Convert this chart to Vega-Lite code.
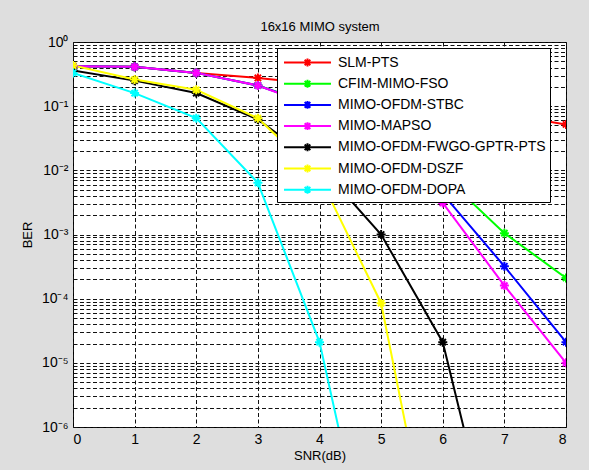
{
  "$schema": "https://vega.github.io/schema/vega-lite/v6.json",
  "width": 493,
  "height": 385,
  "autosize": "none",
  "padding": {"left": 73, "top": 42, "right": 23, "bottom": 43},
  "background": "#dedede",
  "config": {
    "view": {"fill": "white", "stroke": "black", "strokeWidth": 1},
    "axis": {"labelFont": "Liberation Sans", "labelFontSize": 14, "labelColor": "#000", "titleFont": "Liberation Sans", "titleFontSize": 13, "titleFontWeight": "normal", "titleColor": "#000", "ticks": false, "domain": false, "grid": true, "gridColor": "#111", "gridDash": [4, 2.5], "gridWidth": 1, "gridOpacity": 1}
  },
  "data": {"values": [
    {"x": 0, "y": 0.42, "s": "SLM-PTS"}, {"x": 1, "y": 0.41, "s": "SLM-PTS"}, {"x": 2, "y": 0.33, "s": "SLM-PTS"}, {"x": 3, "y": 0.275, "s": "SLM-PTS"}, {"x": 4, "y": 0.22, "s": "SLM-PTS"}, {"x": 5, "y": 0.16, "s": "SLM-PTS"}, {"x": 6, "y": 0.11, "s": "SLM-PTS"}, {"x": 7, "y": 0.075, "s": "SLM-PTS"}, {"x": 8, "y": 0.052, "s": "SLM-PTS"},
    {"x": 0, "y": 0.42, "s": "CFIM-MIMO-FSO"}, {"x": 1, "y": 0.41, "s": "CFIM-MIMO-FSO"}, {"x": 2, "y": 0.33, "s": "CFIM-MIMO-FSO"}, {"x": 3, "y": 0.21, "s": "CFIM-MIMO-FSO"}, {"x": 4, "y": 0.1, "s": "CFIM-MIMO-FSO"}, {"x": 5, "y": 0.032, "s": "CFIM-MIMO-FSO"}, {"x": 6, "y": 0.0085, "s": "CFIM-MIMO-FSO"}, {"x": 7, "y": 0.00105, "s": "CFIM-MIMO-FSO"}, {"x": 8, "y": 0.00021, "s": "CFIM-MIMO-FSO"},
    {"x": 0, "y": 0.42, "s": "MIMO-OFDM-STBC"}, {"x": 1, "y": 0.41, "s": "MIMO-OFDM-STBC"}, {"x": 2, "y": 0.33, "s": "MIMO-OFDM-STBC"}, {"x": 3, "y": 0.21, "s": "MIMO-OFDM-STBC"}, {"x": 4, "y": 0.097, "s": "MIMO-OFDM-STBC"}, {"x": 5, "y": 0.03, "s": "MIMO-OFDM-STBC"}, {"x": 6, "y": 0.0043, "s": "MIMO-OFDM-STBC"}, {"x": 7, "y": 0.00032, "s": "MIMO-OFDM-STBC"}, {"x": 8, "y": 0.000021, "s": "MIMO-OFDM-STBC"},
    {"x": 0, "y": 0.42, "s": "MIMO-MAPSO"}, {"x": 1, "y": 0.41, "s": "MIMO-MAPSO"}, {"x": 2, "y": 0.33, "s": "MIMO-MAPSO"}, {"x": 3, "y": 0.21, "s": "MIMO-MAPSO"}, {"x": 4, "y": 0.094, "s": "MIMO-MAPSO"}, {"x": 5, "y": 0.025, "s": "MIMO-MAPSO"}, {"x": 6, "y": 0.0031, "s": "MIMO-MAPSO"}, {"x": 7, "y": 0.00016, "s": "MIMO-MAPSO"}, {"x": 8, "y": 0.00001, "s": "MIMO-MAPSO"},
    {"x": 0, "y": 0.36, "s": "MIMO-OFDM-FWGO-GPTR-PTS"}, {"x": 1, "y": 0.25, "s": "MIMO-OFDM-FWGO-GPTR-PTS"}, {"x": 2, "y": 0.16, "s": "MIMO-OFDM-FWGO-GPTR-PTS"}, {"x": 3, "y": 0.062, "s": "MIMO-OFDM-FWGO-GPTR-PTS"}, {"x": 4, "y": 0.012, "s": "MIMO-OFDM-FWGO-GPTR-PTS"}, {"x": 5, "y": 0.001, "s": "MIMO-OFDM-FWGO-GPTR-PTS"}, {"x": 6, "y": 0.000021, "s": "MIMO-OFDM-FWGO-GPTR-PTS"}, {"x": 7, "y": 2.5e-9, "s": "MIMO-OFDM-FWGO-GPTR-PTS"},
    {"x": 0, "y": 0.43, "s": "MIMO-OFDM-DSZF"}, {"x": 1, "y": 0.26, "s": "MIMO-OFDM-DSZF"}, {"x": 2, "y": 0.18, "s": "MIMO-OFDM-DSZF"}, {"x": 3, "y": 0.065, "s": "MIMO-OFDM-DSZF"}, {"x": 4, "y": 0.008, "s": "MIMO-OFDM-DSZF"}, {"x": 5, "y": 0.000085, "s": "MIMO-OFDM-DSZF"}, {"x": 6, "y": 1.4e-9, "s": "MIMO-OFDM-DSZF"},
    {"x": 0, "y": 0.33, "s": "MIMO-OFDM-DOPA"}, {"x": 1, "y": 0.16, "s": "MIMO-OFDM-DOPA"}, {"x": 2, "y": 0.065, "s": "MIMO-OFDM-DOPA"}, {"x": 3, "y": 0.0064, "s": "MIMO-OFDM-DOPA"}, {"x": 4, "y": 0.000021, "s": "MIMO-OFDM-DOPA"}, {"x": 5, "y": 1e-9, "s": "MIMO-OFDM-DOPA"}
  ]},
  "encoding": {
    "y": {"field": "y", "type": "quantitative", "scale": {"type": "log", "domain": [0.000001, 1], "nice": false}, "axis": {"title": "BER", "titlePadding": 7, "labelPadding": 5,
      "values": [0.000001, 0.000002, 0.000003, 0.000004, 0.000005, 0.000006, 0.000007, 0.000008, 0.000009, 0.00001, 0.00002, 0.00003, 0.00004, 0.00005, 0.00006, 0.00007, 0.00008, 0.00009, 0.0001, 0.0002, 0.0003, 0.0004, 0.0005, 0.0006, 0.0007, 0.0008, 0.0009, 0.001, 0.002, 0.003, 0.004, 0.005, 0.006, 0.007, 0.008, 0.009, 0.01, 0.02, 0.03, 0.04, 0.05, 0.06, 0.07, 0.08, 0.09, 0.1, 0.2, 0.3, 0.4, 0.5, 0.6, 0.7, 0.8, 0.9, 1],
      "labelExpr": "abs(log(datum.value)/LN10 - round(log(datum.value)/LN10)) > 0.001 ? '' : (round(log(datum.value)/LN10) == 0 ? '10⁰' : round(log(datum.value)/LN10) == -1 ? '10⁻¹' : round(log(datum.value)/LN10) == -2 ? '10⁻²' : round(log(datum.value)/LN10) == -3 ? '10⁻³' : round(log(datum.value)/LN10) == -4 ? '10⁻⁴' : round(log(datum.value)/LN10) == -5 ? '10⁻⁵' : '10⁻⁶')"}},
    "color": {"field": "s", "type": "nominal", "sort": null,
      "scale": {"domain": ["SLM-PTS", "CFIM-MIMO-FSO", "MIMO-OFDM-STBC", "MIMO-MAPSO", "MIMO-OFDM-FWGO-GPTR-PTS", "MIMO-OFDM-DSZF", "MIMO-OFDM-DOPA"], "range": ["#ff0000", "#00ff00", "#0000ff", "#ff00ff", "#000000", "#ffff00", "#00ffff"]},
      "legend": {"title": null, "orient": "none", "legendX": 204, "legendY": 6, "fillColor": "white", "strokeColor": "black", "padding": 4, "labelFont": "Liberation Sans", "labelFontSize": 14, "labelColor": "#000", "labelLimit": 0, "rowPadding": 2.2, "symbolType": "M-2.5,0L2.5,0M0,-0.42L0,0.42M-0.42,0L0.42,0M-0.3,-0.3L0.3,0.3M-0.3,0.3L0.3,-0.3", "symbolSize": 353, "symbolStrokeWidth": 2, "symbolOffset": 16, "labelOffset": 20}}
  },
  "layer": [
    {"mark": {"type": "line", "strokeWidth": 2, "clip": true},
     "encoding": {"x": {"field": "x", "type": "quantitative", "scale": {"domain": [0, 8], "nice": false}, "axis": {"title": "SNR(dB)", "values": [0, 1, 2, 3, 4, 5, 6, 7, 8], "labelPadding": 5, "titlePadding": 3}}}},
    {"mark": {"type": "point", "shape": "M-1,0L1,0M0,-1L0,1M-0.7,-0.7L0.7,0.7M-0.7,0.7L0.7,-0.7", "size": 81, "strokeWidth": 2, "filled": false, "opacity": 1, "clip": true},
     "encoding": {"x": {"field": "x", "type": "quantitative", "scale": {"domain": [0, 8], "nice": false}, "axis": {"orient": "top", "title": "16x16 MIMO system", "labels": false, "grid": false, "titlePadding": 9}}}}
  ],
  "resolve": {"axis": {"x": "independent"}}
}
